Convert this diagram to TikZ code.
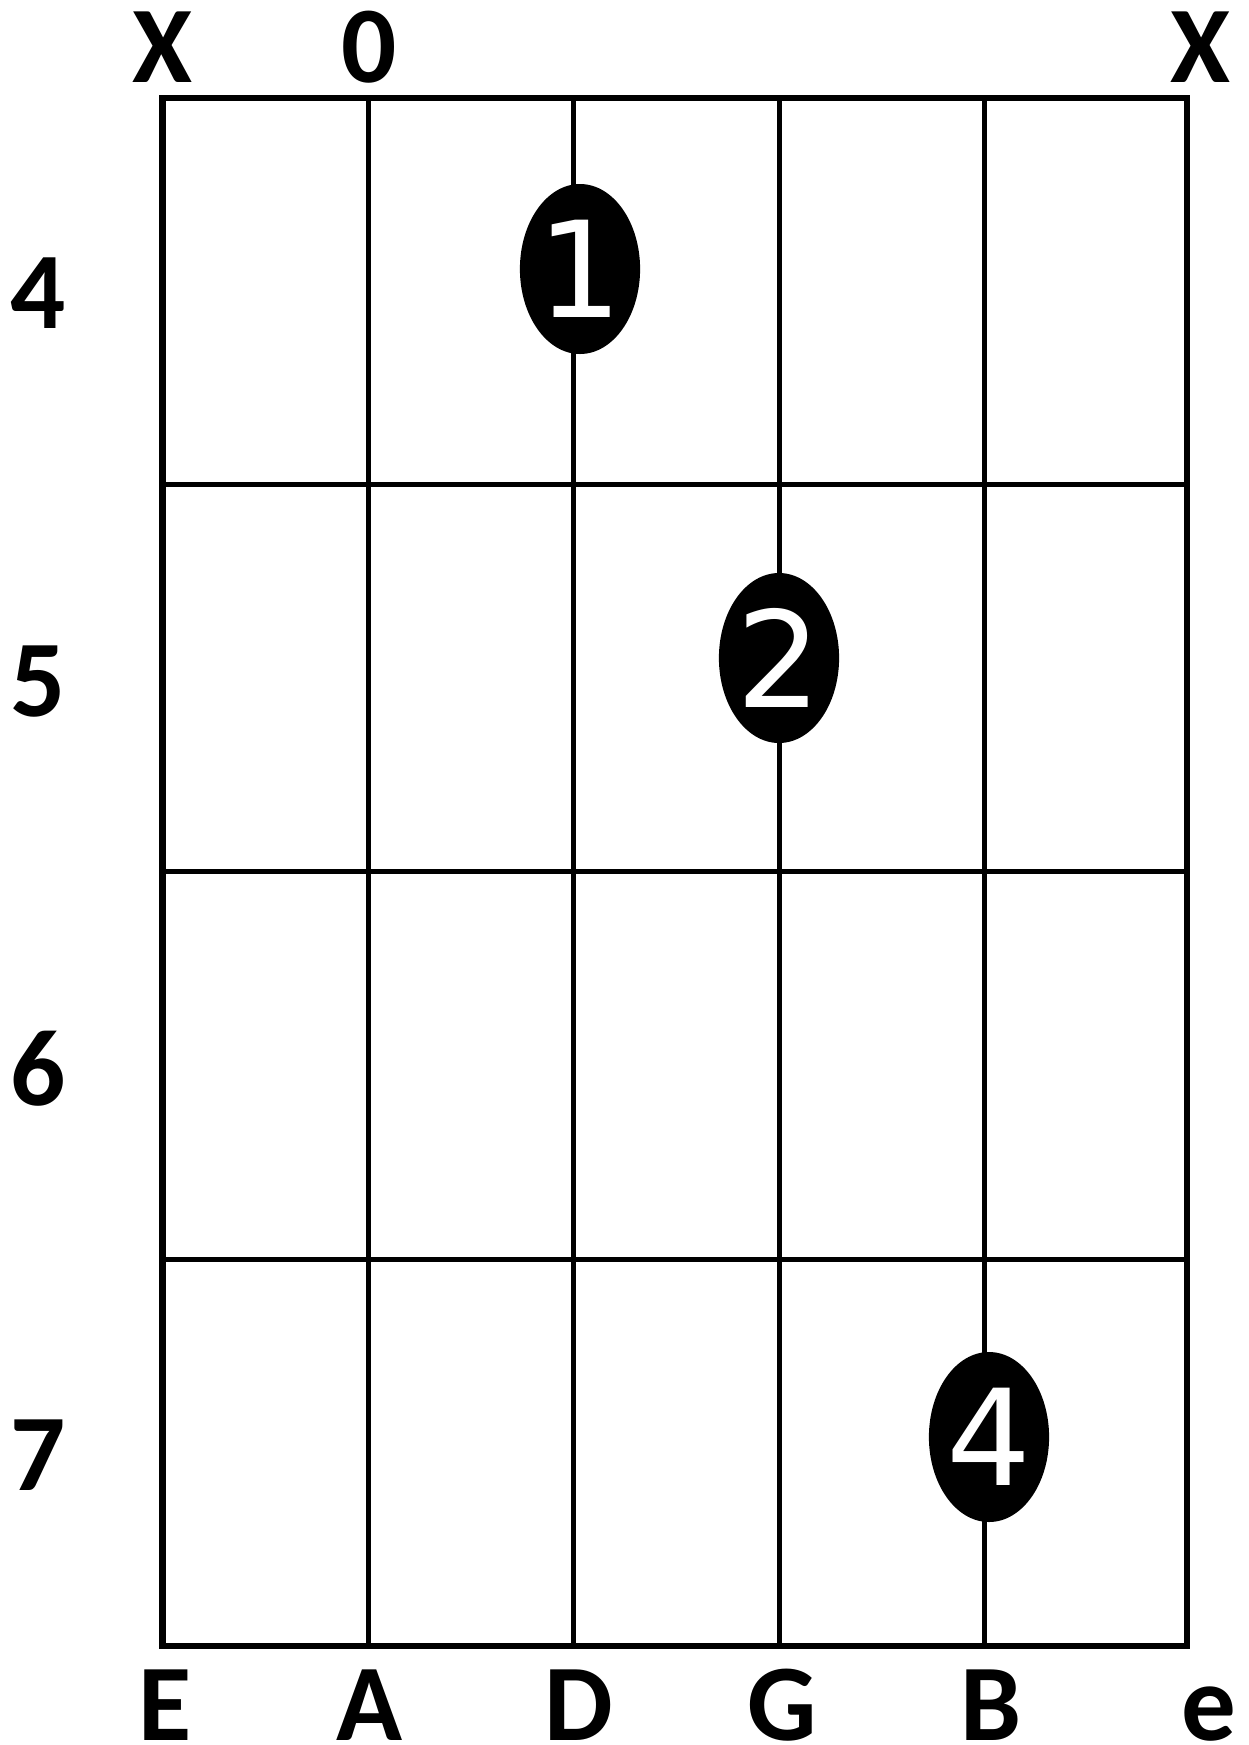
\documentclass[tikz,border=0pt]{standalone}
\usepackage{fontspec}
\setmainfont{Carlito}
\newfontfamily\fingerfont{DejaVu Sans}
\usetikzlibrary{shapes.geometric}
\definecolor{GridClr}{RGB}{0,0,0}

\begin{document}
\begin{tikzpicture}[x=0.2mm,y=-0.2mm,
  lbl/.style={anchor=base,inner sep=0pt,text depth=0pt,
    font=\fontsize{62}{62}\selectfont\bfseries},
  finger/.style={ellipse,fill=black,inner sep=0pt,minimum width=24mm,
    minimum height=34mm,text=white,font=\fontsize{76}{76}\fingerfont}]
\useasboundingbox (0,0) rectangle (1248,1745);

% strings and frets
\foreach \x in {368,573,779,984}
  \draw[GridClr,line width=1mm] (\x,98) -- (\x,1646);
\foreach \y in {484,871,1259}
  \draw[GridClr,line width=1mm] (162.5,\y) -- (1187,\y);
\draw[GridClr,line width=1.3mm] (162.5,98) rectangle (1187,1646);

% open / muted strings
\node[lbl] (mute1) at (162.5,82) {X};
\node[lbl] (open2) at (369,82) {0};
\node[lbl] (mute6) at (1200,82) {X};

% fret numbers
\foreach \n/\y in {4/328,5/716,6/1105,7/1490}
  \node[lbl] (fret\n) at (38,\y) {\n};

% string names
\foreach \s/\x [count=\i] in {E/165,A/370,D/579,G/782,B/991,e/1209}
  \node[lbl] (str\i) at (\x,1740) {\s};

% fingers
\node[finger] (f1) at (580,269) {1};
\node[finger] (f2) at (779,658) {2};
\node[finger] (f4) at (989,1437) {4};

\end{tikzpicture}
\end{document}
